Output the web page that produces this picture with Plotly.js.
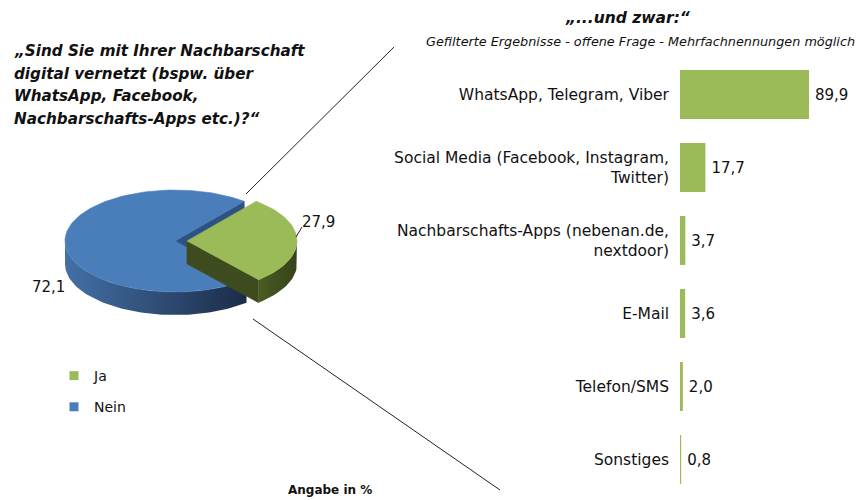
<!DOCTYPE html>
<html><head><meta charset="utf-8">
<script src="https://cdn.plot.ly/plotly-3.0.1.min.js"></script>
<style>html,body{margin:0;padding:0;background:#fff}#chart{width:859px;height:500px}</style>
</head><body><div id="chart"></div>
<script>
// ---- data ----
const pieLabels = ['Ja', 'Nein'];
const pieValues = [27.9, 72.1];
const barCategories = [
  'WhatsApp, Telegram, Viber',
  'Social Media (Facebook, Instagram,<br>Twitter)',
  'Nachbarschafts-Apps (nebenan.de,<br>nextdoor)',
  'E-Mail',
  'Telefon/SMS',
  'Sonstiges'
];
const barValues = [89.9, 17.7, 3.7, 3.6, 2.0, 0.8];
const titleLines = [
  '„Sind Sie mit Ihrer Nachbarschaft',
  'digital vernetzt (bspw. über',
  'WhatsApp, Facebook,',
  'Nachbarschafts-Apps etc.)?“'
];
const rightTitle = '„...und zwar:“';
const rightSubtitle = 'Gefilterte Ergebnisse - offene Frage - Mehrfachnennungen möglich';
const footNote = 'Angabe in %';

// ---- styles ----
const FONT = 'DejaVu Sans, sans-serif';
const TXT = '#111111';
const pieTop = ['#9BBB59', '#4A7EBB'];
const pieFace = ['#3E4B1E', '#2E5284'];
const pieWall = [[[0,'#4A5B22'],[1,'#36431A']], [[0,'#4470A6'],[1,'#1B2C48']]];
const pieExplode = [12, 0];
const geo = {cx:175, cy:241, rx:110, ry:51, depth:23, start:51};
const labelPos = [[318, 222], [48, 287]];

const fmt = v => v.toFixed(1).replace('.', ',');

function pt(a, ox, oy, dz) {
  const r = a * Math.PI / 180;
  return [geo.cx + ox + geo.rx * Math.cos(r), geo.cy + oy - geo.ry * Math.sin(r) + dz];
}
function arc(a0, a1, ox, oy, dz) {
  const n = Math.max(2, Math.ceil(Math.abs(a1 - a0) / 2));
  const out = [];
  for (let i = 0; i <= n; i++) out.push(pt(a0 + (a1 - a0) * i / n, ox, oy, dz));
  return out;
}
function poly(points, fill, extra) {
  const xs = points.map(p => p[0]); const ys = points.map(p => p[1]);
  xs.push(xs[0]); ys.push(ys[0]);
  return Object.assign({
    type: 'scatter', mode: 'lines', x: xs, y: ys, xaxis: 'x2', yaxis: 'y2',
    fill: 'toself', fillcolor: fill, line: {width: 0.6, color: fill},
    hoverinfo: 'skip', showlegend: false
  }, extra || {});
}

// slice geometry from the values
const total = pieValues.reduce((a, b) => a + b, 0);
const slices = [];
let ang = geo.start;
pieValues.forEach((v, i) => {
  const sweep = 360 * v / total;
  const aStart = ang, aEnd = ang - sweep;
  const mid = (aStart + aEnd) / 2 * Math.PI / 180;
  slices.push({i, aStart, aEnd,
    ox: pieExplode[i] * Math.cos(mid),
    oy: -pieExplode[i] * Math.sin(mid) * geo.ry / geo.rx});
  ang = aEnd;
});

const traces = [];
// draw the large (back) slice first, exploded slice last
const order = slices.slice().sort((a, b) => pieExplode[a.i] - pieExplode[b.i]);
order.forEach(s => {
  const {i, aStart, aEnd, ox, oy} = s;
  const c = [geo.cx + ox, geo.cy + oy];
  const cd = [c[0], c[1] + geo.depth];
  // radial faces
  [[aEnd, Math.cos(aEnd * Math.PI / 180) > 0], [aStart, Math.cos(aStart * Math.PI / 180) < 0]].forEach(([a, vis]) => {
    if (!vis) return;
    traces.push(poly([c, pt(a, ox, oy, 0), pt(a, ox, oy, geo.depth), cd], pieFace[i]));
  });
  // outer wall (front half only)
  for (let k = -2; k <= 1; k++) {
    const lo = Math.max(aEnd, -180 + 360 * k), hi = Math.min(aStart, 360 * k);
    if (hi > lo) {
      const pts = arc(lo, hi, ox, oy, 0).concat(arc(hi, lo, ox, oy, geo.depth));
      traces.push(poly(pts, pieWall[i][1][1], {
        fillgradient: {type: 'horizontal', colorscale: pieWall[i]},
        line: {width: 0}
      }));
    }
  }
  // top face
  traces.push(poly([c].concat(arc(aStart, aEnd, ox, oy, 0)), pieTop[i]));
});

// legend entries
pieLabels.forEach((lab, i) => {
  traces.push({type: 'scatter', mode: 'markers', x: [null], y: [null], xaxis: 'x2', yaxis: 'y2',
    name: lab, legendgroup: lab, marker: {symbol: 'square', size: 9, color: pieTop[i]},
    hoverinfo: 'skip', showlegend: true});
});

// bars
traces.push({
  type: 'bar', orientation: 'h', x: barValues, y: barCategories,
  xaxis: 'x', yaxis: 'y',
  marker: {color: '#9BBB59'},
  text: barValues.map(v => '\u2009' + fmt(v)), textposition: 'outside', cliponaxis: false,
  textfont: {family: FONT, size: 15, color: TXT},
  hoverinfo: 'skip', showlegend: false
});

const annotations = [];
titleLines.forEach((t, k) => annotations.push({
  xref: 'paper', yref: 'paper', x: 12 / 859, y: 1 - (51 + k * 22.7) / 500,
  xanchor: 'left', yanchor: 'middle', showarrow: false,
  text: '<b><i>' + t + '</i></b>', font: {family: FONT, size: 15.2, color: TXT}
}));
annotations.push({xref: 'paper', yref: 'paper', x: 628 / 859, y: 1 - 18 / 500,
  xanchor: 'center', yanchor: 'middle', showarrow: false,
  text: '<b><i>' + rightTitle + '</i></b>', font: {family: FONT, size: 15.5, color: TXT}});
annotations.push({xref: 'paper', yref: 'paper', x: 640 / 859, y: 1 - 42 / 500,
  xanchor: 'center', yanchor: 'middle', showarrow: false,
  text: '<i>' + rightSubtitle + '</i>', font: {family: FONT, size: 12.8, color: TXT}});
annotations.push({xref: 'paper', yref: 'paper', x: 330 / 859, y: 1 - 490 / 500,
  xanchor: 'center', yanchor: 'middle', showarrow: false,
  text: '<b>' + footNote + '</b>', font: {family: FONT, size: 12, color: TXT}});
pieValues.forEach((v, i) => annotations.push({
  xref: 'x2', yref: 'y2', x: labelPos[i][0], y: labelPos[i][1],
  xanchor: 'center', yanchor: 'middle', showarrow: false,
  text: fmt(v), font: {family: FONT, size: 15, color: TXT}
}));

const lineStyle = {color: '#222', width: 1};
const shapes = [
  {type: 'line', xref: 'x2', yref: 'y2', x0: 246, y0: 194, x1: 394, y1: 47, line: lineStyle},
  {type: 'line', xref: 'x2', yref: 'y2', x0: 253, y0: 319, x1: 500, y1: 490, line: lineStyle},
  {type: 'line', xref: 'x2', yref: 'y2', x0: 296, y0: 237, x1: 302, y1: 227, line: lineStyle}
];

const layout = {
  width: 859, height: 500,
  margin: {l: 0, r: 0, t: 0, b: 0},
  paper_bgcolor: '#fff', plot_bgcolor: 'rgba(0,0,0,0)',
  font: {family: FONT, color: TXT},
  separators: ',.',
  showlegend: true,
  legend: {x: 54 / 859, y: 1 - 360 / 500, xanchor: 'left', yanchor: 'top',
    bgcolor: 'rgba(0,0,0,0)', font: {family: FONT, size: 14, color: TXT},
    tracegroupgap: 10, traceorder: 'grouped', itemwidth: 30},
  bargap: 0.33,
  xaxis: {domain: [680 / 859, 823.5 / 859], range: [0, 100], visible: false, fixedrange: true},
  yaxis: {domain: [4 / 500, 442 / 500], type: 'category', autorange: 'reversed',
    showline: false, showgrid: false, zeroline: false, ticks: '', ticklabelstandoff: 10,
    tickfont: {family: FONT, size: 15.5, color: TXT}, fixedrange: true},
  xaxis2: {domain: [0, 1], range: [0, 859], visible: false, fixedrange: true},
  yaxis2: {domain: [0, 1], range: [500, 0], visible: false, fixedrange: true},
  annotations, shapes
};

Plotly.newPlot('chart', traces, layout, {displayModeBar: false, staticPlot: true});
</script>
</body></html>
